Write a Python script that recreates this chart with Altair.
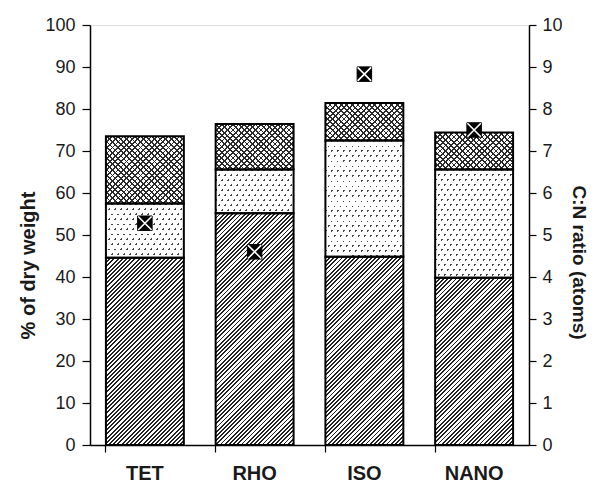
import altair as alt
import pandas as pd

# ---------------- data ----------------
categories = ["TET", "RHO", "ISO", "NANO"]
hatched = [44.6, 55.2, 44.8, 39.8]     # bottom segment, % of dry weight
dotted = [12.9, 10.4, 27.7, 25.8]      # middle segment
crossed = [16.0, 10.8, 8.9, 8.8]       # top segment
cn_ratio = [5.28, 4.6, 8.83, 7.5]      # C:N ratio (atoms), right axis

# ---------------- layout / style constants ----------------
PW, PH = 439, 420
PAD_IN, PAD_OUT = 0.29, 0.145
STEP = PW / (len(categories) - PAD_IN + 2 * PAD_OUT)
BW = STEP * (1 - PAD_IN)
FONT = "Liberation Sans"
TXT = "#1a1a1a"

rows = []
for c, h, d, x in zip(categories, hatched, dotted, crossed):
    rows.append({"cat": c, "seg": "hatch", "y0": 0.0, "y1": h})
    rows.append({"cat": c, "seg": "dots", "y0": h, "y1": h + d})
    rows.append({"cat": c, "seg": "cross", "y0": h + d, "y1": h + d + x})
df = pd.DataFrame(rows)
mdf = pd.DataFrame({"cat": categories, "cn": cn_ratio})


def stripes(w, h, ax, ay, direction, line, bg, frac):
    """Linear gradient that draws repeating stripes inside a w x h box."""
    p, q = w / ax, h / ay
    n = p + q
    k = (p + q) / (p * p + q * q)
    if direction == "/":
        x1, y1, x2, y2 = 0, 0, p * k, q * k
    else:
        x1, y1, x2, y2 = 0, 1, p * k, 1 - q * k
    stops = []
    i = 0
    while i / n < 1:
        s = round(i / n, 5)
        e = round(min((i + frac) / n, 1), 5)
        f = round(min((i + 1) / n, 1), 5)
        stops += [{"offset": s, "color": line}, {"offset": e, "color": line},
                  {"offset": e, "color": bg}, {"offset": f, "color": bg}]
        i += 1
    return {"gradient": "linear", "x1": x1, "y1": y1,
            "x2": round(x2, 6), "y2": round(y2, 6), "stops": stops}


CLEAR = "rgba(255,255,255,0)"

x_enc = alt.X("cat:N", sort=categories,
              scale=alt.Scale(paddingInner=PAD_IN, paddingOuter=PAD_OUT),
              axis=alt.Axis(title=None, labelAngle=0, labelFont=FONT,
                            labelFontSize=20, labelFontWeight="bold",
                            labelColor=TXT, labelPadding=11, tickSize=7,
                            tickColor="black", tickWidth=1.2, bandPosition=0,
                            domainColor="black", domainWidth=1.5))
y_enc = alt.Y("y1:Q", scale=alt.Scale(domain=[0, 100]),
              axis=alt.Axis(orient="left", values=list(range(0, 101, 10)),
                            title="% of dry weight", grid=False, tickSize=8,
                            tickColor="black", tickWidth=1.2,
                            domainColor="black", domainWidth=1.5,
                            labelFont=FONT, labelFontSize=18, labelColor=TXT,
                            labelPadding=7, titleFont=FONT, titleFontSize=20,
                            titleFontWeight="bold", titleColor=TXT,
                            titleX=-62, titleY=240, titleBaseline="middle"))
y2_enc = alt.Y2("y0:Q")

base = alt.Chart(df).encode(x=x_enc, y=y_enc, y2=y2_enc)

layers = []
for _, r in df.iterrows():
    h_px = (r["y1"] - r["y0"]) * PH / 100.0
    filt = f"datum.cat == '{r['cat']}' && datum.seg == '{r['seg']}'"
    sub = base.transform_filter(filt)
    if r["seg"] == "hatch":
        g = stripes(BW, h_px, 4.2, 4.2, "/", "#222222", "white", 0.44)
        layers.append(sub.mark_bar(fill=g, strokeWidth=0))
    elif r["seg"] == "dots":
        layers.append(sub.mark_bar(fill="#444444", strokeWidth=0))
        g1 = stripes(BW, h_px, 1e6, 5.0, "/", CLEAR, "white", 0.28)
        g2 = stripes(BW, h_px, 6.0, 10.0, "/", CLEAR, "white", 0.26)
        layers.append(sub.mark_bar(fill=g1, strokeWidth=0))
        layers.append(sub.mark_bar(fill=g2, strokeWidth=0))
    else:
        g1 = stripes(BW, h_px, 5.6, 5.6, "/", "#2a2a2a", "white", 0.32)
        g2 = stripes(BW, h_px, 5.6, 5.6, "\\", "#2a2a2a", CLEAR, 0.32)
        layers.append(sub.mark_bar(fill=g1, strokeWidth=0))
        layers.append(sub.mark_bar(fill=g2, strokeWidth=0))

outline = base.mark_bar(fill="white", fillOpacity=0, stroke="black",
                        strokeWidth=2)
bars = alt.layer(*layers, outline)

my_enc = alt.Y("cn:Q", scale=alt.Scale(domain=[0, 10]),
               axis=alt.Axis(orient="right", values=list(range(0, 11)),
                             title="C:N ratio (atoms)", grid=False, tickSize=7,
                             tickColor="black", tickWidth=1.2,
                             domainColor="black", domainWidth=1.5,
                             labelFont=FONT, labelFontSize=18, labelColor=TXT,
                             labelPadding=6, titleFont=FONT, titleFontSize=19,
                             titleFontWeight="bold", titleColor=TXT,
                             titleX=49, titleY=237, titleBaseline="middle"))
mbase = alt.Chart(mdf).encode(x=x_enc, y=my_enc)
sq = mbase.mark_point(shape="square", filled=True, fill="black",
                      stroke="black", strokeWidth=1, size=210, opacity=1)
xx = mbase.mark_point(shape="M-1,-1L1,1M-1,1L1,-1", filled=False,
                      stroke="white", strokeWidth=1.6, size=180, opacity=1)
markers = alt.layer(sq, xx)

chart = alt.layer(bars, markers).resolve_scale(y="independent").properties(
    width=PW, height=PH,
    autosize=alt.AutoSizeParams(type="none"),
    padding={"left": 82, "top": 17, "right": 61, "bottom": 39},
).configure_view(stroke=None).configure(background="white")

chart.save("out.html", embed_options={"renderer": "svg", "actions": False})
